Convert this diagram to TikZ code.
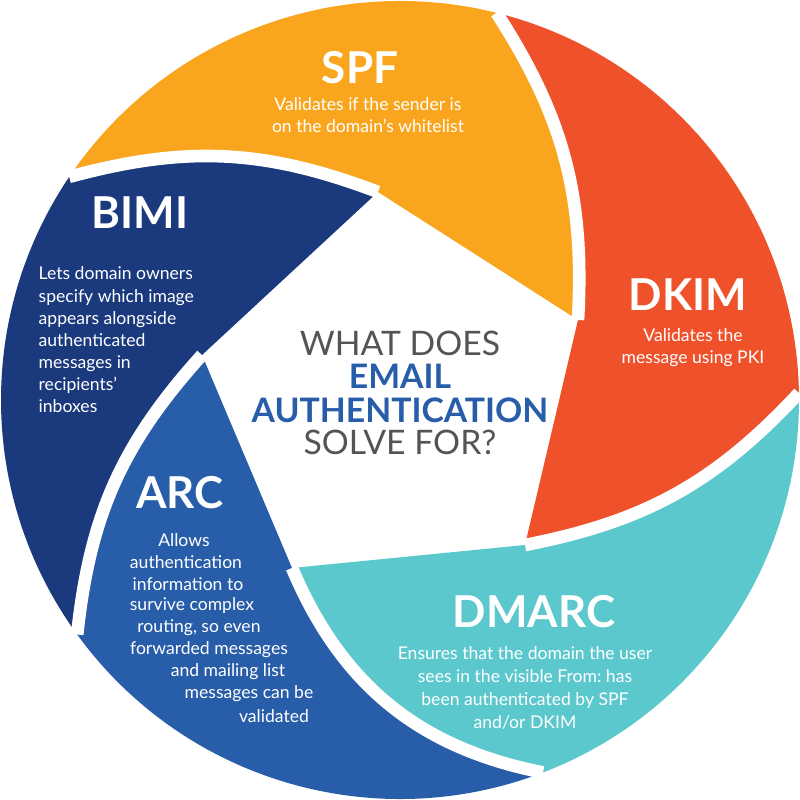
\documentclass[tikz,border=0pt]{standalone}
\usepackage{fontspec}
\setmainfont{Lato}
\definecolor{spfc}{HTML}{F9A61E}
\definecolor{dkimc}{HTML}{EF522B}
\definecolor{dmarcc}{HTML}{5BC8CD}
\definecolor{arcc}{HTML}{285DA9}
\definecolor{bimic}{HTML}{1B3A7D}
\definecolor{greyc}{HTML}{545454}
\begin{document}
\begin{tikzpicture}
	[gap/.style={draw=white,line width=3.6pt},
	title/.style={text=white,font=\fontsize{12.5}{14}\selectfont\bfseries,inner sep=0pt},
	body/.style={text=white,font=\fontsize{5}{6.3}\selectfont,inner sep=0pt,align=center},
	line/.style={text=white,font=\fontsize{5}{6.3}\selectfont,inner sep=0pt},
	mid/.style={font=\fontsize{9.6}{9.4}\selectfont,inner sep=0pt}]
	\useasboundingbox (-4,-4) rectangle (4,4);
	% tips of the blades
	\coordinate (tS) at (1.78,0.80);
	\coordinate (tB) at (-0.22,2.08);
	\coordinate (tA) at (-1.98,0.45);
	\coordinate (tM) at (-1.08,-1.68);
	\coordinate (tK) at (1.25,-1.45);
	% ends on the rim
	\coordinate (oS) at (76:3.99);
	\coordinate (oB) at (146:3.99);
	\coordinate (oA) at (216:3.99);
	\coordinate (oM) at (291:3.99);
	\coordinate (oK) at (1:3.99);
	\fill[spfc] (tS) -- (tB) to[bend right=18] (oB) arc[start angle=146,end angle=76,radius=3.99] to[bend left=18] (tS) -- cycle;
	\fill[bimic] (tB) -- (tA) to[bend right=18] (oA) arc[start angle=216,end angle=146,radius=3.99] to[bend left=18] (tB) -- cycle;
	\fill[arcc] (tA) -- (tM) to[bend right=28] (oM) arc[start angle=291,end angle=216,radius=3.99] to[bend left=18] (tA) -- cycle;
	\fill[dmarcc] (tM) -- (tK) to[bend right=18] (oK) arc[start angle=361,end angle=291,radius=3.99] to[bend left=28] (tM) -- cycle;
	\fill[dkimc] (tK) -- (tS) to[bend right=18] (oS) arc[start angle=436,end angle=361,radius=3.99] to[bend left=18] (tK) -- cycle;
	\foreach \t/\o/\b in {tS/oS/18,tB/oB/18,tA/oA/18,tM/oM/28,tK/oK/18}
		\draw[gap] (\t) to[bend right=\b] (\o);
	% labels
	\node[title] (spf) at (-0.40,3.32) {SPF};
	\node[body] (spfText) at (-0.32,2.85) {Validates if the sender is\\on the domain’s whitelist};
	\node[title] (bimi) at (-2.60,1.87) {BIMI};
	\node[body,align=left,anchor=west] (bimiText) at (-3.62,0.60) {Lets domain owners\\specify which image\\appears alongside\\authenticated\\messages in\\recipients’\\inboxes};
	\node[title] (dkim) at (2.88,1.05) {DKIM};
	\node[body] (dkimText) at (2.93,0.52) {Validates the\\message using PKI};
	\node[title] (dmarc) at (1.34,-2.12) {DMARC};
	\node[body] (dmarcText) at (1.25,-2.88) {Ensures that the domain the user\\[0.3pt]sees in the visible From:~has\\[0.3pt]been authenticated by SPF\\[0.3pt]and/or DKIM};
	\node[title] (arc) at (-2.20,-0.93) {ARC};
	\foreach \x/\y/\txt [count=\i] in {1.84/5.40/Allows,1.86/5.62/authentication,1.88/5.84/information to,
		1.92/6.06/survive complex,1.99/6.28/{routing, so even},2.09/6.50/forwarded messages,
		2.28/6.72/and mailing list,2.49/6.94/messages can be,2.74/7.16/validated}
		\node[line] (arcText\i) at (\x-4,4-\y) {\txt};
	\node[mid,text=greyc] (what) at (0,0.57) {WHAT DOES};
	\node[mid,text=arcc,font=\fontsize{9.6}{9.4}\selectfont\bfseries] (email) at (0,0.24) {EMAIL};
	\node[mid,text=arcc,font=\fontsize{9.6}{9.4}\selectfont\bfseries] (auth) at (0,-0.10) {AUTHENTICATION};
	\node[mid,text=greyc] (solve) at (0,-0.42) {SOLVE FOR?};
\end{tikzpicture}
\end{document}
